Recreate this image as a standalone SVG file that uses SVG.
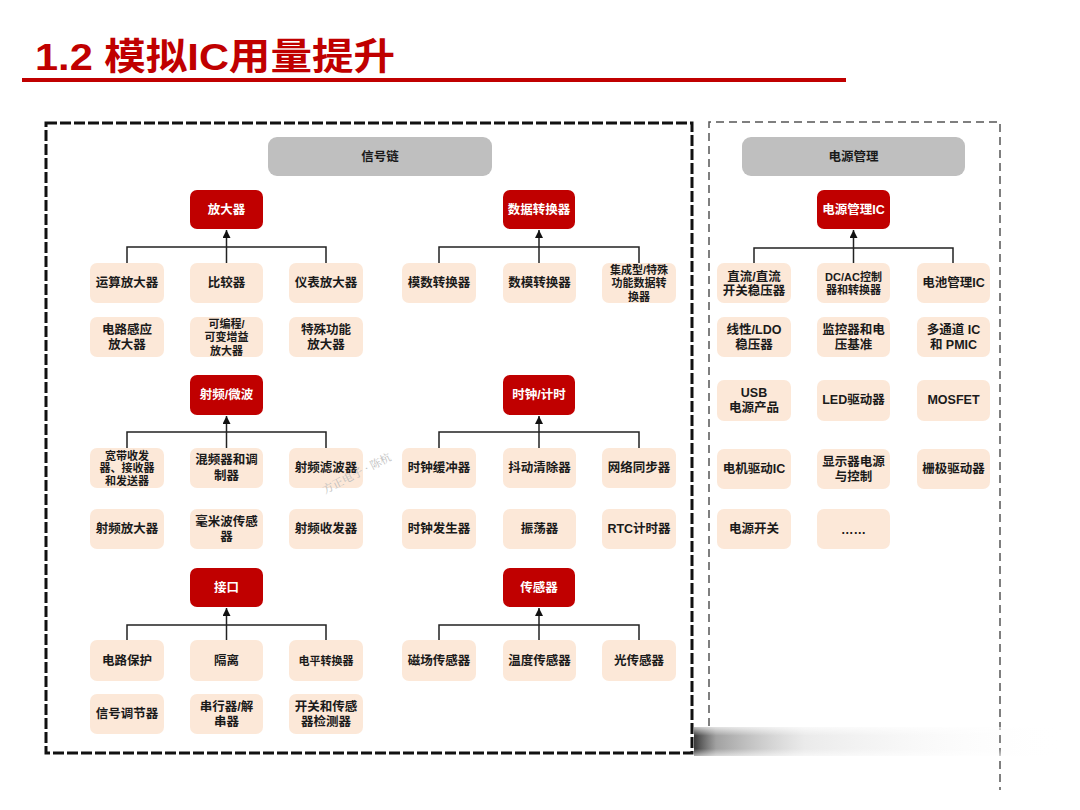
<svg xmlns="http://www.w3.org/2000/svg" width="1080" height="810" viewBox="0 0 1080 810">
<defs>
<style>
.hdr{fill:#BFBFBF}
.cat{fill:#C00000}
.item{fill:#FCE8D8}
.t{font-family:"Liberation Sans","Noto Sans CJK SC",sans-serif;font-weight:bold;font-size:12.5px;text-anchor:middle;dominant-baseline:central;fill:#1a1a1a}
.w{fill:#ffffff}
.s{font-size:11px}
.conn{fill:none;stroke:#222;stroke-width:1.5}
</style>
<marker id="arr" viewBox="0 0 10 10" refX="10" refY="5" markerWidth="8" markerHeight="8" markerUnits="userSpaceOnUse" orient="auto">
<path d="M0,0 L10,5 L0,10 Z" fill="#111"/>
</marker>
<linearGradient id="smudge" x1="0" y1="0" x2="1" y2="0">
<stop offset="0" stop-color="#222" stop-opacity="0.9"/>
<stop offset="0.06" stop-color="#555" stop-opacity="0.55"/>
<stop offset="0.3" stop-color="#999" stop-opacity="0.2"/>
<stop offset="1" stop-color="#fff" stop-opacity="0"/>
</linearGradient>
<linearGradient id="vfade" x1="0" y1="0" x2="0" y2="1">
<stop offset="0" stop-color="#fff" stop-opacity="0.7"/>
<stop offset="0.3" stop-color="#fff" stop-opacity="0"/>
<stop offset="0.75" stop-color="#fff" stop-opacity="0"/>
<stop offset="1" stop-color="#fff" stop-opacity="0.6"/>
</linearGradient>
</defs>
<rect width="1080" height="810" fill="#ffffff"/>

<!-- title -->
<text x="35" y="70" textLength="360" lengthAdjust="spacingAndGlyphs" style="font-family:'Liberation Sans','Noto Sans CJK SC',sans-serif;font-weight:bold;font-size:37px;fill:#C00000">1.2 模拟IC用量提升</text>
<rect x="22" y="78" width="824" height="4" fill="#C00000"/>

<!-- panels -->
<rect x="46" y="123" width="646" height="630" fill="none" stroke="#111" stroke-width="3" stroke-dasharray="11 3"/>
<path d="M709,726 V122 H1000 V790" fill="none" stroke="#555" stroke-width="1.5" stroke-dasharray="8 5"/>
<rect x="694" y="727" width="370" height="29" fill="url(#smudge)"/>
<rect x="694" y="727" width="370" height="29" fill="url(#vfade)"/>

<!-- connectors -->
<g id="connectors">
<path class="conn" d="M127,263 V247 H326 V263"/>
<path class="conn" d="M226.5,263 V230" marker-end="url(#arr)"/>
<path class="conn" d="M439,263 V247 H639 V263"/>
<path class="conn" d="M539,263 V230" marker-end="url(#arr)"/>
<path class="conn" d="M127,448 V432 H326 V448"/>
<path class="conn" d="M226.5,448 V416" marker-end="url(#arr)"/>
<path class="conn" d="M439,448 V432 H639 V448"/>
<path class="conn" d="M539,448 V416" marker-end="url(#arr)"/>
<path class="conn" d="M127,640 V625 H326 V640"/>
<path class="conn" d="M226.5,640 V608" marker-end="url(#arr)"/>
<path class="conn" d="M439,640 V625 H639 V640"/>
<path class="conn" d="M539,640 V608" marker-end="url(#arr)"/>
<path class="conn" d="M754,263 V248 H953 V263"/>
<path class="conn" d="M853.5,263 V230" marker-end="url(#arr)"/>
</g>

<!-- headers -->
<g id="hdr-signal"><rect class="hdr" x="268" y="137" width="224" height="39" rx="9"/><text class="t" x="380" y="156.5">信号链</text></g>
<g id="hdr-power"><rect class="hdr" x="742" y="137" width="223" height="39" rx="9"/><text class="t" x="853.5" y="156.5">电源管理</text></g>

<!-- categories -->
<g id="cat-amp"><rect class="cat" x="190" y="190" width="73" height="39" rx="7"/><text class="t w" x="226.5" y="209.5">放大器</text></g>
<g id="cat-conv"><rect class="cat" x="503" y="190" width="72" height="39" rx="7"/><text class="t w" x="539" y="209.5">数据转换器</text></g>
<g id="cat-rf"><rect class="cat" x="190" y="375" width="73" height="40" rx="7"/><text class="t w" x="226.5" y="395">射频/微波</text></g>
<g id="cat-clk"><rect class="cat" x="503" y="375" width="72" height="40" rx="7"/><text class="t w" x="539" y="395">时钟/计时</text></g>
<g id="cat-if"><rect class="cat" x="190" y="568" width="73" height="39" rx="7"/><text class="t w" x="226.5" y="587.5">接口</text></g>
<g id="cat-sen"><rect class="cat" x="503" y="568" width="72" height="39" rx="7"/><text class="t w" x="539" y="587.5">传感器</text></g>
<g id="cat-pmic"><rect class="cat" x="817" y="190" width="73" height="39" rx="7"/><text class="t w" x="853.5" y="209.5">电源管理IC</text></g>

<!-- amplifier items -->
<g id="amp-1"><rect class="item" x="90" y="263" width="74" height="40" rx="7"/><text class="t" x="127" y="283">运算放大器</text></g>
<g id="amp-2"><rect class="item" x="190" y="263" width="73" height="40" rx="7"/><text class="t" x="226.5" y="283">比较器</text></g>
<g id="amp-3"><rect class="item" x="289" y="263" width="74" height="40" rx="7"/><text class="t" x="326" y="283">仪表放大器</text></g>
<g id="amp-4"><rect class="item" x="90" y="317" width="74" height="40" rx="7"/><text class="t" x="127" y="329.5">电路感应</text><text class="t" x="127" y="344.5">放大器</text></g>
<g id="amp-5"><rect class="item" x="190" y="317" width="73" height="40" rx="7"/><text class="t s" x="226.5" y="323.5">可编程/</text><text class="t s" x="226.5" y="337">可变增益</text><text class="t s" x="226.5" y="350.5">放大器</text></g>
<g id="amp-6"><rect class="item" x="289" y="317" width="74" height="40" rx="7"/><text class="t" x="326" y="329.5">特殊功能</text><text class="t" x="326" y="344.5">放大器</text></g>

<!-- converter items -->
<g id="conv-1"><rect class="item" x="402" y="263" width="74" height="40" rx="7"/><text class="t" x="439" y="283">模数转换器</text></g>
<g id="conv-2"><rect class="item" x="503" y="263" width="73" height="40" rx="7"/><text class="t" x="539.5" y="283">数模转换器</text></g>
<g id="conv-3"><rect class="item" x="602" y="263" width="74" height="40" rx="7"/><text class="t s" x="639" y="269.5">集成型/特殊</text><text class="t s" x="639" y="283">功能数据转</text><text class="t s" x="639" y="296.5">换器</text></g>

<!-- rf items -->
<g id="rf-1"><rect class="item" x="90" y="448" width="74" height="40" rx="7"/><text class="t s" x="127" y="456">宽带收发</text><text class="t s" x="127" y="468">器、接收器</text><text class="t s" x="127" y="480.5">和发送器</text></g>
<g id="rf-2"><rect class="item" x="190" y="448" width="73" height="40" rx="7"/><text class="t" x="226.5" y="460">混频器和调</text><text class="t" x="226.5" y="476">制器</text></g>
<g id="rf-3"><rect class="item" x="289" y="448" width="74" height="40" rx="7"/><text class="t" x="326" y="468">射频滤波器</text></g>
<g id="rf-4"><rect class="item" x="90" y="509" width="74" height="40" rx="7"/><text class="t" x="127" y="529">射频放大器</text></g>
<g id="rf-5"><rect class="item" x="190" y="509" width="73" height="40" rx="7"/><text class="t" x="226.5" y="521.5">毫米波传感</text><text class="t" x="226.5" y="537">器</text></g>
<g id="rf-6"><rect class="item" x="289" y="509" width="74" height="40" rx="7"/><text class="t" x="326" y="529">射频收发器</text></g>

<!-- clock items -->
<g id="clk-1"><rect class="item" x="402" y="448" width="74" height="40" rx="7"/><text class="t" x="439" y="468">时钟缓冲器</text></g>
<g id="clk-2"><rect class="item" x="503" y="448" width="73" height="40" rx="7"/><text class="t" x="539.5" y="468">抖动清除器</text></g>
<g id="clk-3"><rect class="item" x="602" y="448" width="74" height="40" rx="7"/><text class="t" x="639" y="468">网络同步器</text></g>
<g id="clk-4"><rect class="item" x="402" y="509" width="74" height="40" rx="7"/><text class="t" x="439" y="529">时钟发生器</text></g>
<g id="clk-5"><rect class="item" x="503" y="509" width="73" height="40" rx="7"/><text class="t" x="539.5" y="529">振荡器</text></g>
<g id="clk-6"><rect class="item" x="602" y="509" width="74" height="40" rx="7"/><text class="t" x="639" y="529">RTC计时器</text></g>

<!-- interface items -->
<g id="if-1"><rect class="item" x="90" y="640" width="74" height="41" rx="7"/><text class="t" x="127" y="660.5">电路保护</text></g>
<g id="if-2"><rect class="item" x="190" y="640" width="73" height="41" rx="7"/><text class="t" x="226.5" y="660.5">隔离</text></g>
<g id="if-3"><rect class="item" x="289" y="640" width="74" height="41" rx="7"/><text class="t s" x="326" y="660.5">电平转换器</text></g>
<g id="if-4"><rect class="item" x="90" y="694" width="74" height="40" rx="7"/><text class="t" x="127" y="714">信号调节器</text></g>
<g id="if-5"><rect class="item" x="190" y="694" width="73" height="40" rx="7"/><text class="t" x="226.5" y="706.5">串行器/解</text><text class="t" x="226.5" y="721.5">串器</text></g>
<g id="if-6"><rect class="item" x="289" y="694" width="74" height="40" rx="7"/><text class="t" x="326" y="706.5">开关和传感</text><text class="t" x="326" y="721.5">器检测器</text></g>

<!-- sensor items -->
<g id="sen-1"><rect class="item" x="402" y="640" width="74" height="41" rx="7"/><text class="t" x="439" y="660.5">磁场传感器</text></g>
<g id="sen-2"><rect class="item" x="503" y="640" width="73" height="41" rx="7"/><text class="t" x="539.5" y="660.5">温度传感器</text></g>
<g id="sen-3"><rect class="item" x="602" y="640" width="74" height="41" rx="7"/><text class="t" x="639" y="660.5">光传感器</text></g>

<!-- power items -->
<g id="pw-1"><rect class="item" x="717" y="263" width="74" height="40" rx="7"/><text class="t" x="754" y="276.5">直流/直流</text><text class="t" x="754" y="291">开关稳压器</text></g>
<g id="pw-2"><rect class="item" x="817" y="263" width="73" height="40" rx="7"/><text class="t s" x="853.5" y="277">DC/AC控制</text><text class="t s" x="853.5" y="290">器和转换器</text></g>
<g id="pw-3"><rect class="item" x="917" y="263" width="73" height="40" rx="7"/><text class="t" x="953.5" y="283">电池管理IC</text></g>
<g id="pw-4"><rect class="item" x="717" y="317" width="74" height="40" rx="7"/><text class="t" x="754" y="329.5">线性/LDO</text><text class="t" x="754" y="344.5">稳压器</text></g>
<g id="pw-5"><rect class="item" x="817" y="317" width="73" height="40" rx="7"/><text class="t" x="853.5" y="329.5">监控器和电</text><text class="t" x="853.5" y="344.5">压基准</text></g>
<g id="pw-6"><rect class="item" x="917" y="317" width="73" height="40" rx="7"/><text class="t" x="953.5" y="329.5">多通道 IC</text><text class="t" x="953.5" y="344.5">和 PMIC</text></g>
<g id="pw-7"><rect class="item" x="717" y="380" width="74" height="41" rx="7"/><text class="t" x="754" y="392.5">USB</text><text class="t" x="754" y="408">电源产品</text></g>
<g id="pw-8"><rect class="item" x="817" y="380" width="73" height="41" rx="7"/><text class="t" x="853.5" y="400">LED驱动器</text></g>
<g id="pw-9"><rect class="item" x="917" y="380" width="73" height="41" rx="7"/><text class="t" x="953.5" y="400">MOSFET</text></g>
<g id="pw-10"><rect class="item" x="717" y="449" width="74" height="40" rx="7"/><text class="t" x="754" y="469">电机驱动IC</text></g>
<g id="pw-11"><rect class="item" x="817" y="449" width="73" height="40" rx="7"/><text class="t" x="853.5" y="461.5">显示器电源</text><text class="t" x="853.5" y="476.5">与控制</text></g>
<g id="pw-12"><rect class="item" x="917" y="449" width="73" height="40" rx="7"/><text class="t" x="953.5" y="469">栅极驱动器</text></g>
<g id="pw-13"><rect class="item" x="717" y="509" width="74" height="40" rx="7"/><text class="t" x="754" y="529">电源开关</text></g>
<g id="pw-14"><rect class="item" x="817" y="509" width="73" height="40" rx="7"/><text class="t" x="853.5" y="530">……</text></g>

<!-- watermark -->
<text x="0" y="0" transform="translate(325,494) rotate(-27)" style="font-family:'Noto Serif CJK SC','Noto Sans CJK SC',serif;font-size:11px;fill:#bdbdbd">方正电子 · 陈杭</text>
</svg>
